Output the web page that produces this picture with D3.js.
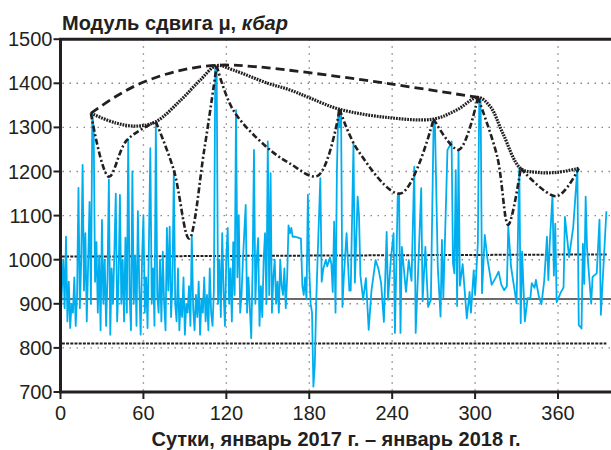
<!DOCTYPE html>
<html>
<head>
<meta charset="utf-8">
<script src="https://cdn.jsdelivr.net/npm/d3@7"></script>
<style>
body{margin:0;background:#fff}
text{font-family:"Liberation Sans",Arial,sans-serif;fill:#231f20}
</style>
</head>
<body>
<svg id="svg1" width="611" height="450"></svg>
<script>
// days 0..130 are daily readings, after that only the listed days
var leftValues = [860,930,1000,890,1052,860,950,845,900,880,960,850,920,1163,890,1000,1215,930,1060,860,
    990,1131,900,1330,1300,950,1040,880,1010,840,1090,900,1000,850,960,1182,830,980,900,1020,
    1150,860,950,1147,900,1000,860,1050,880,1273,920,840,1200,900,1010,850,1110,940,830,1000,
    1100,880,960,845,1040,1253,900,980,850,1310,920,880,1000,860,1018,900,840,1072,930,1075,
    870,950,1200,900,860,980,840,910,870,960,830,900,880,940,850,1056,890,840,920,870,
    950,830,910,880,960,860,920,840,980,880,850,930,1440,1435,900,1000,870,1060,930,850,
    1010,1072,900,980,860,1040,920,1339,960,1101,880]

var rightDays = [131,132,134,135,136,138,139,140,141,142,143,144,145,146,147,148,149,150,151,152,
    153,154,155,156,157,158,159,160,161,162,163,164,165,166,167,168,170,172,174,175,
    176,177,178,179,180,181,182,183,184,185,186,188,189,190,192,193,195,196,197,198,
    199,200,201,202,203,204,205,207,209,210,212,213,215,216,217,219,221,223,225,228,
    230,232,234,236,237,239,241,242,244,245,246,247,249,250,252,254,256,257,259,261,
    262,264,266,268,270,271,273,275,276,277,280,282,283,284,285,286,287,288,289,291,
    294,296,297,299,300,302,303,304,305,307,309,312,315,317,319,321,323,324,326,330,
    332,333,334,336,338,340,341,343,344,346,348,350,352,353,354,356,357,358,359,362,
    364,365,368,371,374,375,377,378,379,380,381,384,385,388,390,391,395]
var rightValues = [920,1000,1124,880,960,822,980,1249,900,1000,1049,850,940,870,1000,1060,900,1268,920,1196,
    880,960,1000,900,950,880,1000,940,920,980,890,960,1078,1060,1072,1052,1052,1050,1048,940,
    920,960,910,1147,980,900,880,712,760,900,1000,1185,950,977,1000,985,1005,990,927,1086,
    880,1200,1340,1300,1340,893,960,1060,930,930,1264,948,1143,1100,965,909,958,841,930,999,
    980,947,859,1063,909,1000,1060,834,1143,1150,834,1029,960,927,999,952,1211,834,992,1162,
    906,1029,893,909,1317,1300,984,871,1045,913,1249,1260,1268,992,969,1203,895,1249,941,990,
    867,927,880,976,920,1037,1366,1360,924,1056,1000,943,960,973,943,931,940,1075,984,901,
    1209,856,1018,860,913,913,947,936,954,918,899,952,1052,954,1036,1147,964,1082,904,926,
    937,1097,1006,1074,1207,852,844,1036,945,1143,1025,900,961,969,1091,875,1110]

// envelope curves [day, value]
var dashedCurve = [[22,1332],[40,1370],[58,1400],[85,1428],[113,1441],[140,1438],[180,1424],[240,1398],[302,1368]]
var dottedCurve = [[22,1332],[40,1310],[55,1303],[69,1313],[87,1362],[101,1407],[113,1440],[125,1430],[150,1400],
    [166,1385],[181,1366],[202,1341],[238,1322],[270,1319],[287,1340],[302,1368],[311,1347],[320,1287],
    [333,1207],[345,1198],[359,1198],[375,1207]]
var dashDotCurve = [[22,1332],[35,1188],[48,1271],[69,1313],[82,1203],[93,1048],[104,1249],[113,1440],[125,1339],
    [149,1256],[166,1218],[186,1190],[202,1341],[215,1249],[246,1150],[270,1319],[288,1249],[302,1368],
    [316,1234],[324,1079],[333,1207],[359,1144],[375,1207]]
var dashDotPeaks = [22,69,113,202,270,302,333,375]

// horizontal levels
var upperLevel = [1007,1012]
var meanLevel = 911
var lowerLevel = 810

var yTicks = [700,800,900,1000,1100,1200,1300,1400,1500]
var xTicks = [0,60,120,180,240,300,360]

var svg = d3.select("#svg1")
var x = d3.scaleLinear().domain([0,400]).range([60.5,613.3])
var y = d3.scaleLinear().domain([700,1500]).range([392,39.2])
var plotL = x(0), plotR = 611, plotT = y(1500), plotB = y(700)

svg.append("clipPath").attr("id","clip").append("rect")
    .attr("x",plotL).attr("y",plotT).attr("width",plotR-plotL).attr("height",plotB-plotT)

// grid
svg.append("g").selectAll("line").data(yTicks.slice(1,-1)).enter().append("line")
    .attr("x1",plotL+2).attr("x2",plotR).attr("y1",function(d){return y(d)}).attr("y2",function(d){return y(d)})
    .attr("stroke","#888").attr("stroke-width",1.4).attr("stroke-dasharray","1.5,5.5")
svg.append("g").selectAll("line").data(xTicks.slice(1)).enter().append("line")
    .attr("x1",function(d){return x(d)}).attr("x2",function(d){return x(d)}).attr("y1",plotT).attr("y2",plotB)
    .attr("stroke","#888").attr("stroke-width",1.4).attr("stroke-dasharray","1.5,5.5")

// levels
svg.append("line").attr("x1",x(1)).attr("x2",x(396)).attr("y1",y(upperLevel[0])).attr("y2",y(upperLevel[1]))
    .attr("stroke","#231f20").attr("stroke-width",2).attr("stroke-dasharray","3,1.2")
svg.append("line").attr("x1",plotL).attr("x2",plotR).attr("y1",y(meanLevel)).attr("y2",y(meanLevel))
    .attr("stroke","#3a3a3a").attr("stroke-width",1.5)
svg.append("line").attr("x1",x(1)).attr("x2",x(395)).attr("y1",y(lowerLevel)).attr("y2",y(lowerLevel))
    .attr("stroke","#231f20").attr("stroke-width",2).attr("stroke-dasharray","3,1.2")

// blue series
var series = []
leftValues.forEach(function(v,i){ series.push([i,v]) })
rightDays.forEach(function(d,i){ series.push([d,rightValues[i]]) })

var line = d3.line().x(function(d){return x(d[0])}).y(function(d){return y(d[1])})
svg.append("path").datum(series).attr("d",line).attr("clip-path","url(#clip)")
    .attr("fill","none").attr("stroke","#00aeef").attr("stroke-width",1.8).attr("stroke-linejoin","round")

// envelopes
var smooth = d3.line().x(function(d){return x(d[0])}).y(function(d){return y(d[1])}).curve(d3.curveCatmullRom.alpha(0.5))

svg.append("path").datum(dashedCurve).attr("d",smooth)
    .attr("fill","none").attr("stroke","#231f20").attr("stroke-width",2.8).attr("stroke-dasharray","9,5")

svg.append("path").datum(dottedCurve).attr("d",smooth)
    .attr("fill","none").attr("stroke","#231f20").attr("stroke-width",3.2).attr("stroke-dasharray","1.8,1")

var pieces = []
for(var i=0;i<dashDotPeaks.length-1;i++){
    var a = dashDotPeaks[i], b = dashDotPeaks[i+1]
    pieces.push(dashDotCurve.filter(function(p){return p[0]>=a && p[0]<=b}))
}
svg.append("g").selectAll("path").data(pieces).enter().append("path").attr("d",smooth)
    .attr("fill","none").attr("stroke","#231f20").attr("stroke-width",2.6).attr("stroke-dasharray","6,2.5,2,2.5")

// frame
svg.append("line").attr("x1",plotL-1.5).attr("x2",plotR).attr("y1",plotT).attr("y2",plotT).attr("stroke","#231f20").attr("stroke-width",3)
svg.append("line").attr("x1",plotL-1.5).attr("x2",plotR).attr("y1",plotB).attr("y2",plotB).attr("stroke","#231f20").attr("stroke-width",3)
svg.append("line").attr("x1",plotL).attr("x2",plotL).attr("y1",plotT).attr("y2",plotB).attr("stroke","#231f20").attr("stroke-width",3)

// ticks
svg.append("g").selectAll("line").data(yTicks).enter().append("line")
    .attr("x1",plotL-7).attr("x2",plotL).attr("y1",function(d){return y(d)}).attr("y2",function(d){return y(d)})
    .attr("stroke","#231f20").attr("stroke-width",2)
svg.append("g").selectAll("text").data(yTicks).enter().append("text")
    .attr("x",plotL-8).attr("y",function(d){return y(d)+7})
    .attr("text-anchor","end").style("font-size","20px").text(function(d){return d})
svg.append("g").selectAll("line").data(xTicks).enter().append("line")
    .attr("x1",function(d){return x(d)}).attr("x2",function(d){return x(d)}).attr("y1",plotB).attr("y2",plotB+7)
    .attr("stroke","#231f20").attr("stroke-width",2)
svg.append("g").selectAll("text").data(xTicks).enter().append("text")
    .attr("x",function(d){return x(d)}).attr("y",plotB+28)
    .attr("text-anchor","middle").style("font-size","20px").text(function(d){return d})

// titles
var title = svg.append("text").attr("x",62).attr("y",30).style("font-size","20px").style("font-weight","bold")
title.append("tspan").text("Модуль сдвига μ, ")
title.append("tspan").style("font-style","italic").text("кбар")

svg.append("text").attr("x",336).attr("y",446).attr("text-anchor","middle")
    .style("font-size","20px").style("font-weight","bold")
    .text("Сутки, январь 2017 г. – январь 2018 г.")
</script>
</body>
</html>
